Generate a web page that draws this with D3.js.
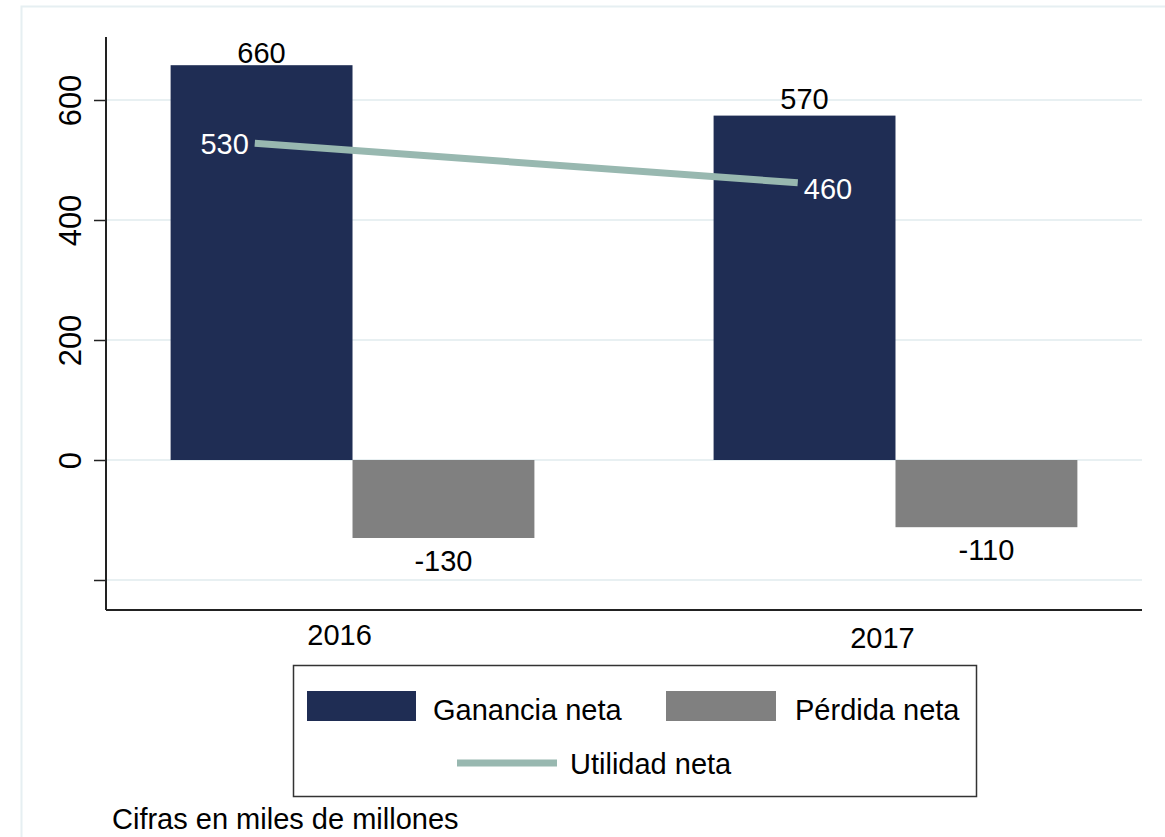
<!DOCTYPE html>
<html>
<head>
<meta charset="utf-8">
<script src="https://cdn.jsdelivr.net/npm/d3@7"></script>
<style>
    body { margin: 0; background: #fff; }
    svg { display: block; font-family: "Liberation Sans", Arial, sans-serif; }
</style>
</head>
<body>
<svg id="chart" width="1165" height="837"></svg>
<script>
// data (cifras en miles de millones)
var years = [2016, 2017];
var ganancia = [658, 574];
var perdida = [-130, -112];
var utilidad = [528, 462];
var yTicks = [-200, 0, 200, 400, 600];
var yTickLabels = ['', '0', '200', '400', '600'];
var legendLabels = ['Ganancia neta', 'Pérdida neta', 'Utilidad neta'];

var conf = {
    width: 1165,
    height: 837,
    plot: { left: 106, right: 1142, top: 37, bottom: 610 },
    barWidth: 0.335, // in year units
    lineOffset: -0.18,
    fontSize: 29,
    tickFontSize: 31,
    colors: {
        ganancia: '#1f2d54',
        perdida: '#808080',
        utilidad: '#98b8b0',
        grid: '#e8f0f2',
        axis: '#222',
        frame: '#e6eff2'
    }
};

var svg = d3.select('#chart');
var p = conf.plot;

var x = d3.scaleLinear()
    .domain([2015.546, 2017.454])
    .range([p.left, p.right]);

var y = d3.scaleLinear()
    .domain([-250, 705])
    .range([p.bottom, p.top]);

var fmt = v => String(Math.round(v / 10) * 10);

// outer graph region frame
svg.append('rect')
    .attr('x', 21.5).attr('y', 6.5)
    .attr('width', 1200).attr('height', 900)
    .attr('fill', 'none')
    .attr('stroke', conf.colors.frame)
    .attr('stroke-width', 2);

// gridlines
svg.append('g')
    .selectAll('line')
    .data(yTicks)
    .join('line')
    .attr('x1', p.left).attr('x2', p.right)
    .attr('y1', d => y(d)).attr('y2', d => y(d))
    .attr('stroke', conf.colors.grid)
    .attr('stroke-width', 2);

// bars
var bars = svg.append('g');
years.forEach((yr, i) => {
    bars.append('rect')
        .attr('x', x(yr - conf.barWidth))
        .attr('width', x(yr) - x(yr - conf.barWidth))
        .attr('y', y(ganancia[i]))
        .attr('height', y(0) - y(ganancia[i]))
        .attr('fill', conf.colors.ganancia);
    bars.append('rect')
        .attr('x', x(yr))
        .attr('width', x(yr + conf.barWidth) - x(yr))
        .attr('y', y(0))
        .attr('height', y(perdida[i]) - y(0))
        .attr('fill', conf.colors.perdida);
});

// bar labels
var labels = svg.append('g')
    .attr('font-size', conf.fontSize)
    .attr('text-anchor', 'middle')
    .attr('fill', '#000');
years.forEach((yr, i) => {
    labels.append('text')
        .attr('x', x(yr - conf.barWidth / 2))
        .attr('y', Math.max(y(ganancia[i]) - 7, p.top + 26))
        .text(fmt(ganancia[i]));
    labels.append('text')
        .attr('x', x(yr + conf.barWidth / 2))
        .attr('y', y(perdida[i]) + 33)
        .text(fmt(perdida[i]));
});

// utilidad line
var linePts = years.map((yr, i) => [x(yr + conf.lineOffset), y(utilidad[i])]);
svg.append('path')
    .attr('d', d3.line()(linePts))
    .attr('fill', 'none')
    .attr('stroke', conf.colors.utilidad)
    .attr('stroke-width', 7);

svg.append('text')
    .attr('x', linePts[0][0] - 6)
    .attr('y', linePts[0][1] + 11)
    .attr('text-anchor', 'end')
    .attr('font-size', conf.fontSize)
    .attr('fill', '#fff')
    .text(fmt(utilidad[0]));
svg.append('text')
    .attr('x', linePts[1][0] + 6)
    .attr('y', linePts[1][1] + 16)
    .attr('text-anchor', 'start')
    .attr('font-size', conf.fontSize)
    .attr('fill', '#fff')
    .text(fmt(utilidad[1]));

// y axis
var yAxis = svg.append('g')
    .attr('transform', `translate(${p.left},0)`)
    .call(d3.axisLeft(y).tickValues(yTicks).tickSize(12).tickFormat((d, i) => yTickLabels[i]));
yAxis.select('.domain').remove();
yAxis.selectAll('.tick line').attr('stroke', conf.colors.axis).attr('stroke-width', 1.5);
yAxis.selectAll('.tick text')
    .attr('font-size', conf.tickFontSize)
    .attr('font-family', '"Liberation Sans", Arial, sans-serif')
    .attr('fill', '#000')
    .attr('text-anchor', 'middle')
    .attr('dy', null)
    .attr('x', null)
    .attr('transform', 'translate(-25,0) rotate(-90)');

svg.append('line')
    .attr('x1', p.left).attr('x2', p.left)
    .attr('y1', p.top).attr('y2', p.bottom)
    .attr('stroke', conf.colors.axis).attr('stroke-width', 2);
svg.append('line')
    .attr('x1', p.left).attr('x2', p.right)
    .attr('y1', p.bottom).attr('y2', p.bottom)
    .attr('stroke', conf.colors.axis).attr('stroke-width', 2);

// x category labels
svg.append('g')
    .selectAll('text')
    .data(years)
    .join('text')
    .attr('x', d => x(d) - 13)
    .attr('y', (d, i) => p.bottom + 35 + i * 3)
    .attr('text-anchor', 'middle')
    .attr('font-size', conf.fontSize)
    .text(d => d);

// legend
var legend = svg.append('g').attr('font-size', conf.fontSize);
legend.append('rect')
    .attr('x', 293.5).attr('y', 665.5)
    .attr('width', 683).attr('height', 131)
    .attr('fill', '#fff')
    .attr('stroke', '#333')
    .attr('stroke-width', 1.5);

legend.append('rect')
    .attr('x', 307).attr('y', 691).attr('width', 109).attr('height', 30)
    .attr('fill', conf.colors.ganancia);
legend.append('text')
    .attr('x', 433).attr('y', 720)
    .text(legendLabels[0]);

legend.append('rect')
    .attr('x', 666).attr('y', 691).attr('width', 110).attr('height', 30)
    .attr('fill', conf.colors.perdida);
legend.append('text')
    .attr('x', 795).attr('y', 720)
    .text(legendLabels[1]);

legend.append('line')
    .attr('x1', 457).attr('x2', 557)
    .attr('y1', 763).attr('y2', 763)
    .attr('stroke', conf.colors.utilidad)
    .attr('stroke-width', 7);
legend.append('text')
    .attr('x', 570).attr('y', 774)
    .text(legendLabels[2]);

// note
svg.append('text')
    .attr('x', 112).attr('y', 829)
    .attr('font-size', conf.fontSize)
    .text('Cifras en miles de millones');
</script>
</body>
</html>
